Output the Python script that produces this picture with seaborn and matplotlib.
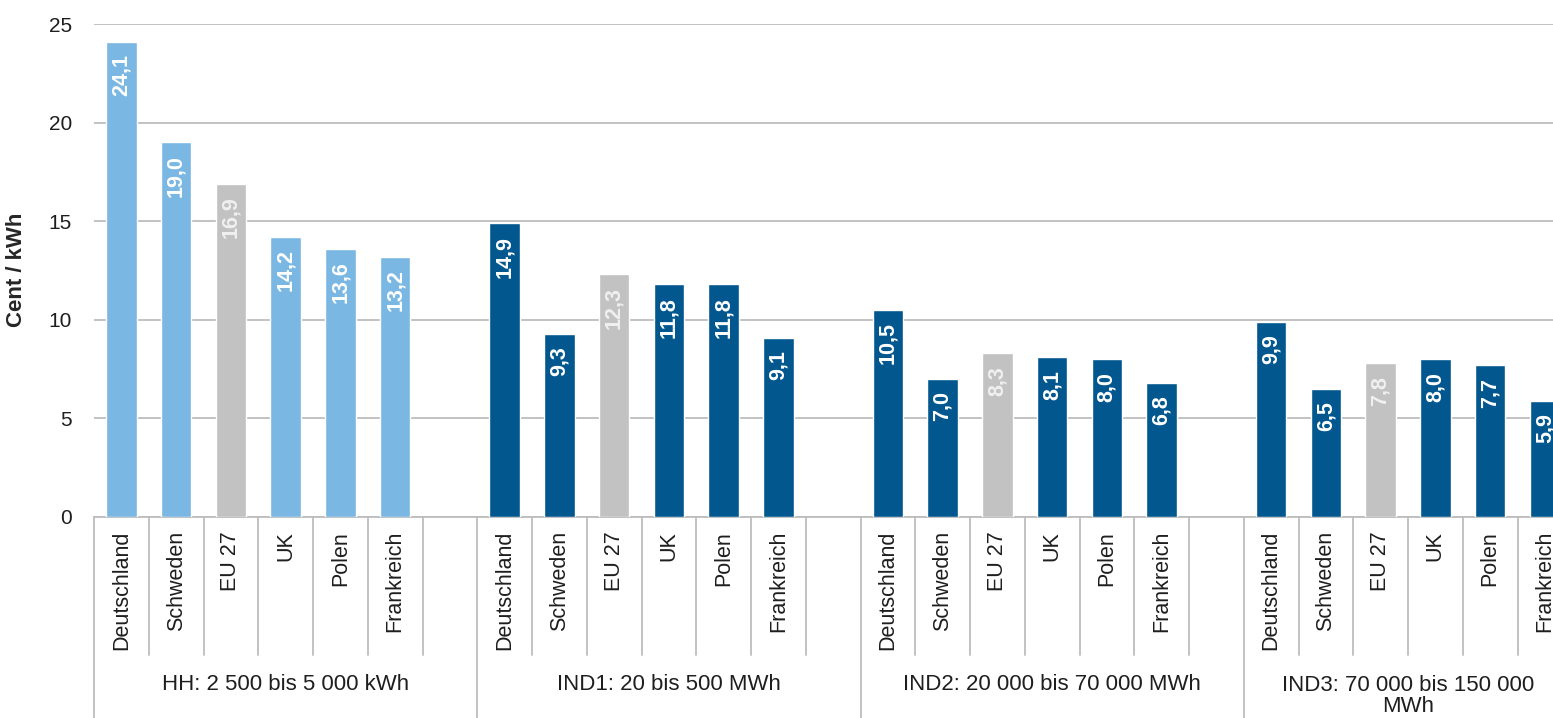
import matplotlib
matplotlib.use("Agg")
import matplotlib.pyplot as plt
import matplotlib.transforms as mtransforms
import seaborn as sns
import pandas as pd

countries = ["Deutschland", "Schweden", "EU 27", "UK", "Polen", "Frankreich"]
groups = ["HH: 2 500 bis 5 000 kWh", "IND1: 20 bis 500 MWh",
          "IND2: 20 000 bis 70 000 MWh", "IND3: 70 000 bis 150 000\nMWh"]
hh_values = [24.1, 19.0, 16.9, 14.2, 13.6, 13.2]
ind1_values = [14.9, 9.3, 12.3, 11.8, 11.8, 9.1]
ind2_values = [10.5, 7.0, 8.3, 8.1, 8.0, 6.8]
ind3_values = [9.9, 6.5, 7.8, 8.0, 7.7, 5.9]
yticks = [0, 5, 10, 15, 20, 25]

series = [hh_values, ind1_values, ind2_values, ind3_values]
SLOTS = 7  # 6 countries + 1 empty slot per group

rows = []
for g, vals in enumerate(series):
    for i, (c, v) in enumerate(zip(countries, vals)):
        if c == "EU 27":
            kind = "EU"
        elif g == 0:
            kind = "HH"
        else:
            kind = "IND"
        rows.append({"pos": g * SLOTS + i, "value": v, "country": c, "kind": kind})
df = pd.DataFrame(rows)

palette = {"HH": "#7AB7E3", "IND": "#02578F", "EU": "#C2C2C2"}
label_colors = {"HH": "white", "IND": "white", "EU": "#F0F0F0"}

sns.set_style("white")
plt.rcParams["font.family"] = ["Liberation Sans", "DejaVu Sans"]

W, H = 1553, 718
ax_left, ax_top, ax_bottom = 94, 24, 517
slot_px = 54.75
fig = plt.figure(figsize=(W / 100, H / 100), dpi=100)
ax = fig.add_axes([ax_left / W, 1 - ax_bottom / H, 1 - ax_left / W,
                   (ax_bottom - ax_top) / H])
ax_h = ax_bottom - ax_top

sns.barplot(data=df, x="pos", y="value", hue="kind", palette=palette,
            native_scale=True, dodge=False, width=0.56, legend=False,
            saturation=1, ax=ax, zorder=3)

ax.set_ylim(0, 25)
ax.set_xlim(-0.5, -0.5 + (W - ax_left) / slot_px)
ax.set_yticks(yticks)
ax.set_yticklabels([str(t) for t in yticks], fontsize=15, color="#1E1E1E")
ax.tick_params(axis="y", length=0, pad=16)
ax.yaxis.grid(True, color="#BDBDBD", linewidth=1.3, zorder=0)
ax.set_axisbelow(True)
for s in ["left", "right", "top"]:
    ax.spines[s].set_visible(False)
ax.spines["bottom"].set_color("#BDBDBD")
ax.spines["bottom"].set_linewidth(1.3)

ax.set_ylabel("Cent / kWh", fontsize=16, fontweight="bold", labelpad=10)
ax.yaxis.set_label_coords(-(ax_left - 27) / (W - ax_left), 0.5 - (270 - (ax_top + ax_bottom) / 2) / ax_h)
ax.set_xlabel("")

# category tick labels
ax.set_xticks(df["pos"].tolist())
ax.set_xticklabels(df["country"].tolist(), rotation=90, fontsize=15.5, va="top",
                   color="#1E1E1E")
ax.tick_params(axis="x", length=0, pad=10)

# value labels
for _, r in df.iterrows():
    ax.annotate(f"{r['value']:.1f}".replace(".", ","), (r["pos"], r["value"]),
                xytext=(0, -9), textcoords="offset points",
                rotation=90, ha="center", va="top", color=label_colors[r["kind"]],
                fontsize=15.5, fontweight="bold", zorder=4)

# separators
trans = mtransforms.blended_transform_factory(ax.transData, ax.transAxes)
short_bottom = -(655 - ax_bottom) / ax_h
long_bottom = -(H + 5 - ax_bottom) / ax_h
n_groups = len(series)
for g in range(n_groups):
    start = g * SLOTS - 0.5
    ax.plot([start, start], [0, long_bottom], transform=trans, color="#BDBDBD",
            lw=1.3, clip_on=False)
    for k in range(1, SLOTS):
        x = start + k
        ax.plot([x, x], [0, short_bottom], transform=trans, color="#BDBDBD",
                lw=1.3, clip_on=False)

# group labels
for g, name in enumerate(groups):
    start = g * SLOTS - 0.5
    end = start + (6 if g == n_groups - 1 else SLOTS)
    y_px = 684 if "\n" not in name else 696
    ax.text((start + end) / 2, -(y_px - ax_bottom) / ax_h,
            name, transform=trans, ha="center", va="center", fontsize=16,
            color="#1E1E1E", linespacing=0.95)

fig.savefig("out.png", dpi=100)
